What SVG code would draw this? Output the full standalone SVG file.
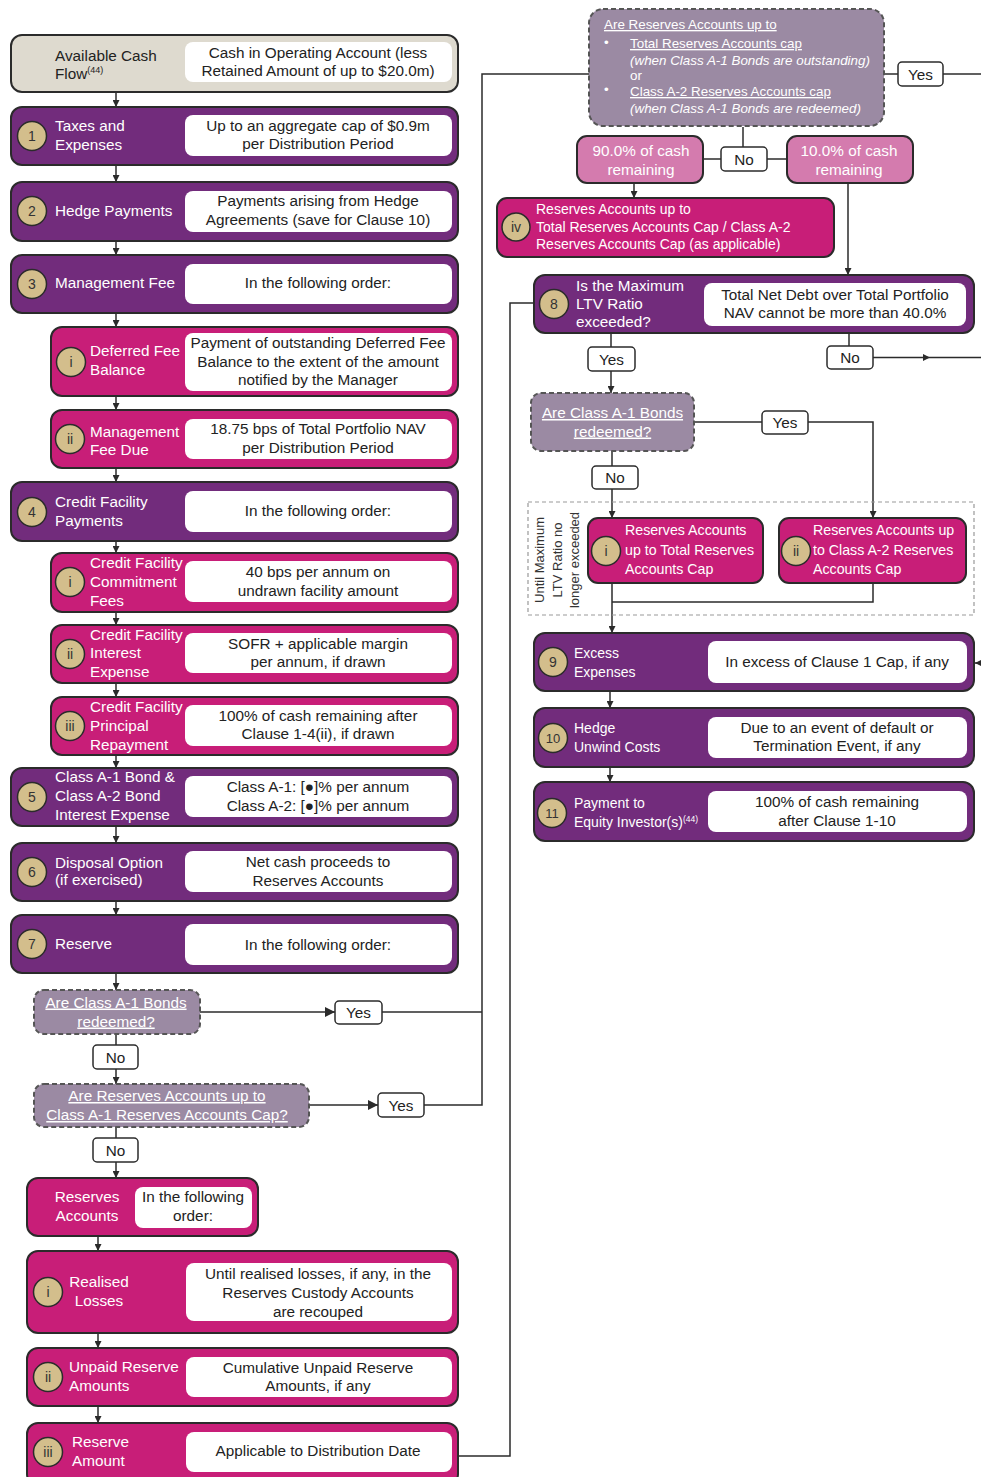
<svg xmlns="http://www.w3.org/2000/svg" width="981" height="1477" viewBox="0 0 981 1477">
<defs>
<style>
text{font-family:"Liberation Sans",Arial,sans-serif;font-size:15.3px;fill:#222}
.w{fill:#fff}
.m{text-anchor:middle}
.u{text-decoration:underline}
.o{stroke:#2b2b2b;stroke-width:2}
.pu{fill:#722c7c}
.pk{fill:#c81e78}
.lp{fill:#d47bae}
.be{fill:#dedacf}
.dq{fill:#9b8aa3;stroke:#555;stroke-width:2;stroke-dasharray:5 3}
.wb{fill:#fff}
.c{fill:#d3be8c;stroke:#2b2b2b;stroke-width:1.5}
.cn{stroke:#2b2b2b;stroke-width:1.5;fill:none}
.lb{fill:#fff;stroke:#2b2b2b;stroke-width:1.5}
.num{font-size:14px;fill:#333;text-anchor:middle}
.s14{font-size:14px}
.s13{font-size:13.4px}
.it{font-style:italic}
</style>
<marker id="ah" viewBox="0 0 10 10" refX="10" refY="5" markerWidth="7" markerHeight="7" markerUnits="userSpaceOnUse" orient="auto"><path d="M0,0 L10,5 L0,10 z" fill="#2b2b2b"/></marker>
<marker id="ahL" viewBox="0 0 10 10" refX="10" refY="5" markerWidth="10" markerHeight="10" markerUnits="userSpaceOnUse" orient="auto"><path d="M0,0 L10,5 L0,10 z" fill="#2b2b2b"/></marker>
</defs>

<g id="connectors">
<line class="cn" x1="116" y1="92" x2="116" y2="107" marker-end="url(#ah)"/>
<line class="cn" x1="116" y1="165" x2="116" y2="182" marker-end="url(#ah)"/>
<line class="cn" x1="116" y1="241" x2="116" y2="255" marker-end="url(#ah)"/>
<line class="cn" x1="116" y1="313" x2="116" y2="327" marker-end="url(#ah)"/>
<line class="cn" x1="116" y1="396" x2="116" y2="410" marker-end="url(#ah)"/>
<line class="cn" x1="116" y1="468" x2="116" y2="482" marker-end="url(#ah)"/>
<line class="cn" x1="116" y1="541" x2="116" y2="553" marker-end="url(#ah)"/>
<line class="cn" x1="116" y1="612" x2="116" y2="625" marker-end="url(#ah)"/>
<line class="cn" x1="116" y1="683" x2="116" y2="697" marker-end="url(#ah)"/>
<line class="cn" x1="116" y1="755" x2="116" y2="768" marker-end="url(#ah)"/>
<line class="cn" x1="116" y1="826" x2="116" y2="843" marker-end="url(#ah)"/>
<line class="cn" x1="116" y1="901" x2="116" y2="915" marker-end="url(#ah)"/>
<line class="cn" x1="116" y1="973" x2="116" y2="990" marker-end="url(#ah)"/>
<line class="cn" x1="116" y1="1034" x2="116" y2="1045"/>
<line class="cn" x1="116" y1="1069" x2="116" y2="1084" marker-end="url(#ah)"/>
<line class="cn" x1="116" y1="1127" x2="116" y2="1138"/>
<line class="cn" x1="116" y1="1162" x2="116" y2="1178" marker-end="url(#ah)"/>
<line class="cn" x1="98" y1="1236" x2="98" y2="1251" marker-end="url(#ah)"/>
<line class="cn" x1="98" y1="1333" x2="98" y2="1348" marker-end="url(#ah)"/>
<line class="cn" x1="98" y1="1406" x2="98" y2="1423" marker-end="url(#ah)"/>
<line class="cn" x1="200" y1="1012" x2="335" y2="1012" marker-end="url(#ahL)"/>
<line class="cn" x1="382" y1="1012" x2="482" y2="1012"/>
<line class="cn" x1="309" y1="1105" x2="378" y2="1105" marker-end="url(#ahL)"/>
<polyline class="cn" points="424,1105 482,1105 482,74 589,74"/>
<polyline class="cn" points="458,1456 510,1456 510,303 534,303"/>
<line class="cn" x1="884" y1="74" x2="898" y2="74"/>
<line class="cn" x1="943" y1="74" x2="981" y2="74"/>
<line class="cn" x1="743" y1="127" x2="743" y2="147"/>
<line class="cn" x1="703" y1="159" x2="721" y2="159"/>
<line class="cn" x1="767" y1="159" x2="787" y2="159"/>
<line class="cn" x1="634" y1="183" x2="634" y2="198" marker-end="url(#ah)"/>
<line class="cn" x1="848" y1="183" x2="848" y2="275" marker-end="url(#ah)"/>
<line class="cn" x1="611" y1="333" x2="611" y2="347"/>
<line class="cn" x1="611" y1="371" x2="611" y2="393" marker-end="url(#ah)"/>
<line class="cn" x1="849" y1="333" x2="849" y2="346"/>
<line class="cn" x1="873" y1="357.5" x2="930" y2="357.5" marker-end="url(#ah)"/>
<line class="cn" x1="930" y1="357.5" x2="981" y2="357.5"/>
<line class="cn" x1="694" y1="422" x2="762" y2="422"/>
<polyline class="cn" points="808,422 873,422 873,518" marker-end="url(#ah)"/>
<line class="cn" x1="612" y1="451" x2="612" y2="466"/>
<line class="cn" x1="612" y1="489" x2="612" y2="518" marker-end="url(#ah)"/>
<line class="cn" x1="612" y1="583" x2="612" y2="633" marker-end="url(#ah)"/>
<polyline class="cn" points="873,583 873,602 612,602"/>
<line class="cn" x1="986" y1="663" x2="975" y2="663" marker-end="url(#ah)"/>
<line class="cn" x1="610" y1="691" x2="610" y2="708" marker-end="url(#ah)"/>
<line class="cn" x1="610" y1="767" x2="610" y2="782" marker-end="url(#ah)"/>
</g>

<g id="avail">
<rect class="be o" x="11" y="35" width="447" height="57" rx="11"/>
<rect class="wb" x="185" y="42" width="267" height="40" rx="8"/>
<text x="55" y="61">Available Cash</text>
<text x="55" y="79">Flow<tspan font-size="9" dy="-6">(44)</tspan></text>
<text class="m" x="318" y="57.5">Cash in Operating Account (less</text>
<text class="m" x="318" y="76">Retained Amount of up to $20.0m)</text>
</g>

<g id="n1">
<rect class="pu o" x="11" y="107" width="447" height="58" rx="11"/>
<rect class="wb" x="185" y="115" width="267" height="41" rx="8"/>
<circle class="c" cx="32" cy="136" r="14.5"/><text class="num" x="32" y="141">1</text>
<text class="w" x="55" y="131">Taxes and</text>
<text class="w" x="55" y="149.5">Expenses</text>
<text class="m" x="318" y="130.5">Up to an aggregate cap of $0.9m</text>
<text class="m" x="318" y="149">per Distribution Period</text>
</g>

<g id="n2">
<rect class="pu o" x="11" y="182" width="447" height="59" rx="11"/>
<rect class="wb" x="185" y="191" width="267" height="41" rx="8"/>
<circle class="c" cx="32" cy="211" r="14.5"/><text class="num" x="32" y="216">2</text>
<text class="w" x="55" y="215.5">Hedge Payments</text>
<text class="m" x="318" y="206">Payments arising from Hedge</text>
<text class="m" x="318" y="225">Agreements (save for Clause 10)</text>
</g>

<g id="n3">
<rect class="pu o" x="11" y="255" width="447" height="58" rx="11"/>
<rect class="wb" x="185" y="264" width="267" height="40" rx="8"/>
<circle class="c" cx="32" cy="284" r="14.5"/><text class="num" x="32" y="289">3</text>
<text class="w" x="55" y="288">Management Fee</text>
<text class="m" x="318" y="288">In the following order:</text>
</g>

<g id="n3i">
<rect class="pk o" x="51" y="327" width="407" height="69" rx="11"/>
<rect class="wb" x="185" y="333" width="267" height="58" rx="8"/>
<circle class="c" cx="71" cy="362" r="14.5"/><text class="num" x="71" y="367">i</text>
<text class="w" x="90" y="356">Deferred Fee</text>
<text class="w" x="90" y="374.5">Balance</text>
<text class="m" x="318" y="348">Payment of outstanding Deferred Fee</text>
<text class="m" x="318" y="366.5">Balance to the extent of the amount</text>
<text class="m" x="318" y="385">notified by the Manager</text>
</g>

<g id="n3ii">
<rect class="pk o" x="51" y="410" width="407" height="58" rx="11"/>
<rect class="wb" x="185" y="419" width="267" height="40" rx="8"/>
<circle class="c" cx="70" cy="439" r="14.5"/><text class="num" x="70" y="444">ii</text>
<text class="w" x="90" y="437">Management</text>
<text class="w" x="90" y="455">Fee Due</text>
<text class="m" x="318" y="434">18.75 bps of Total Portfolio NAV</text>
<text class="m" x="318" y="453">per Distribution Period</text>
</g>

<g id="n4">
<rect class="pu o" x="11" y="482" width="447" height="59" rx="11"/>
<rect class="wb" x="185" y="491" width="267" height="41" rx="8"/>
<circle class="c" cx="32" cy="512" r="14.5"/><text class="num" x="32" y="517">4</text>
<text class="w" x="55" y="506.5">Credit Facility</text>
<text class="w" x="55" y="525.5">Payments</text>
<text class="m" x="318" y="516">In the following order:</text>
</g>

<g id="n4i">
<rect class="pk o" x="51" y="553" width="407" height="59" rx="11"/>
<rect class="wb" x="185" y="561" width="267" height="41" rx="8"/>
<circle class="c" cx="70" cy="582" r="14.5"/><text class="num" x="70" y="587">i</text>
<text class="w" x="90" y="568">Credit Facility</text>
<text class="w" x="90" y="587">Commitment</text>
<text class="w" x="90" y="605.5">Fees</text>
<text class="m" x="318" y="577">40 bps per annum on</text>
<text class="m" x="318" y="595.5">undrawn facility amount</text>
</g>

<g id="n4ii">
<rect class="pk o" x="51" y="625" width="407" height="58" rx="11"/>
<rect class="wb" x="185" y="633" width="267" height="40" rx="8"/>
<circle class="c" cx="70" cy="654" r="14.5"/><text class="num" x="70" y="659">ii</text>
<text class="w" x="90" y="639.5">Credit Facility</text>
<text class="w" x="90" y="658">Interest</text>
<text class="w" x="90" y="677">Expense</text>
<text class="m" x="318" y="648.5">SOFR + applicable margin</text>
<text class="m" x="318" y="667">per annum, if drawn</text>
</g>

<g id="n4iii">
<rect class="pk o" x="51" y="697" width="407" height="58" rx="11"/>
<rect class="wb" x="185" y="705" width="267" height="41" rx="8"/>
<circle class="c" cx="70" cy="726" r="14.5"/><text class="num" x="70" y="731">iii</text>
<text class="w" x="90" y="711.5">Credit Facility</text>
<text class="w" x="90" y="730.5">Principal</text>
<text class="w" x="90" y="749.5">Repayment</text>
<text class="m" x="318" y="720.5">100% of cash remaining after</text>
<text class="m" x="318" y="739">Clause 1-4(ii), if drawn</text>
</g>

<g id="n5">
<rect class="pu o" x="11" y="768" width="447" height="58" rx="11"/>
<rect class="wb" x="185" y="776" width="267" height="41" rx="8"/>
<circle class="c" cx="32" cy="797" r="14.5"/><text class="num" x="32" y="802">5</text>
<text class="w" x="55" y="782">Class A-1 Bond &amp;</text>
<text class="w" x="55" y="801">Class A-2 Bond</text>
<text class="w" x="55" y="819.5">Interest Expense</text>
<text class="m" x="318" y="792">Class A-1: [●]% per annum</text>
<text class="m" x="318" y="811">Class A-2: [●]% per annum</text>
</g>

<g id="n6">
<rect class="pu o" x="11" y="843" width="447" height="58" rx="11"/>
<rect class="wb" x="185" y="851" width="267" height="41" rx="8"/>
<circle class="c" cx="32" cy="872" r="14.5"/><text class="num" x="32" y="877">6</text>
<text class="w" x="55" y="867.5">Disposal Option</text>
<text class="w" x="55" y="885">(if exercised)</text>
<text class="m" x="318" y="867">Net cash proceeds to</text>
<text class="m" x="318" y="885.5">Reserves Accounts</text>
</g>

<g id="n7">
<rect class="pu o" x="11" y="915" width="447" height="58" rx="11"/>
<rect class="wb" x="185" y="924" width="267" height="41" rx="8"/>
<circle class="c" cx="32" cy="944" r="14.5"/><text class="num" x="32" y="949">7</text>
<text class="w" x="55" y="949">Reserve</text>
<text class="m" x="318" y="949.5">In the following order:</text>
</g>

<g id="d1">
<rect class="dq" x="34" y="990" width="166" height="44" rx="10"/>
<text class="w m u" x="116" y="1007.5">Are Class A-1 Bonds</text>
<text class="w m u" x="116" y="1026.5">redeemed?</text>
</g>
<g id="d1yes"><rect class="lb" x="335" y="1001" width="47" height="23" rx="4"/><text class="m" x="358.5" y="1018">Yes</text></g>
<g id="d1no"><rect class="lb" x="93" y="1045" width="45" height="24" rx="4"/><text class="m" x="115.5" y="1062.5">No</text></g>

<g id="d2">
<rect class="dq" x="34" y="1084" width="275" height="43" rx="10"/>
<text class="w m u" x="167" y="1101">Are Reserves Accounts up to</text>
<text class="w m u" x="167" y="1120">Class A-1 Reserves Accounts Cap?</text>
</g>
<g id="d2yes"><rect class="lb" x="378" y="1093" width="46" height="24" rx="4"/><text class="m" x="401" y="1110.5">Yes</text></g>
<g id="d2no"><rect class="lb" x="93" y="1138" width="45" height="24" rx="4"/><text class="m" x="115.5" y="1155.5">No</text></g>

<g id="ra">
<rect class="pk o" x="27" y="1178" width="231" height="58" rx="11"/>
<rect class="wb" x="135" y="1187" width="117" height="41" rx="8"/>
<text class="w m" x="87" y="1202">Reserves</text>
<text class="w m" x="87" y="1221">Accounts</text>
<text class="m" x="193" y="1202">In the following</text>
<text class="m" x="193" y="1221">order:</text>
</g>

<g id="rai">
<rect class="pk o" x="27" y="1251" width="431" height="82" rx="11"/>
<rect class="wb" x="186" y="1263" width="266" height="58" rx="8"/>
<circle class="c" cx="48" cy="1292" r="14.5"/><text class="num" x="48" y="1297">i</text>
<text class="w m" x="99" y="1287">Realised</text>
<text class="w m" x="99" y="1305.5">Losses</text>
<text class="m" x="318" y="1279">Until realised losses, if any, in the</text>
<text class="m" x="318" y="1298">Reserves Custody Accounts</text>
<text class="m" x="318" y="1316.5">are recouped</text>
</g>

<g id="raii">
<rect class="pk o" x="27" y="1348" width="431" height="58" rx="11"/>
<rect class="wb" x="186" y="1357" width="266" height="40" rx="8"/>
<circle class="c" cx="48" cy="1377" r="14.5"/><text class="num" x="48" y="1382">ii</text>
<text class="w" x="69" y="1372">Unpaid Reserve</text>
<text class="w" x="69" y="1391">Amounts</text>
<text class="m" x="318" y="1373">Cumulative Unpaid Reserve</text>
<text class="m" x="318" y="1391">Amounts, if any</text>
</g>

<g id="raiii">
<rect class="pk o" x="27" y="1423" width="431" height="62" rx="11"/>
<rect class="wb" x="186" y="1432" width="266" height="40" rx="8"/>
<circle class="c" cx="48" cy="1452" r="14.5"/><text class="num" x="48" y="1457">iii</text>
<text class="w" x="72" y="1447">Reserve</text>
<text class="w" x="72" y="1465.5">Amount</text>
<text class="m" x="318" y="1456">Applicable to Distribution Date</text>
</g>

<g id="dtop">
<rect class="dq" x="589" y="9" width="295" height="117" rx="14"/>
<text class="w s13 u" x="604" y="29">Are Reserves Accounts up to</text>
<text class="w s13" x="604" y="47">•</text>
<text class="w s13 u" x="630" y="48">Total Reserves Accounts cap</text>
<text class="w s13 it" x="630" y="64.5">(when Class A-1 Bonds are outstanding)</text>
<text class="w s13" x="630" y="80">or</text>
<text class="w s13" x="604" y="94">•</text>
<text class="w s13 u" x="630" y="96">Class A-2 Reserves Accounts cap</text>
<text class="w s13 it" x="630" y="112.5">(when Class A-1 Bonds are redeemed)</text>
</g>
<g id="dtopyes"><rect class="lb" x="898" y="62" width="45" height="24" rx="4"/><text class="m" x="920.5" y="79.5">Yes</text></g>
<g id="dtopno"><rect class="lb" x="721" y="147" width="46" height="24" rx="4"/><text class="m" x="744" y="164.5">No</text></g>

<g id="p90">
<rect class="lp o" x="577" y="136" width="126" height="47" rx="10"/>
<text class="w m" x="641" y="155.5">90.0% of cash</text>
<text class="w m" x="641" y="174.5">remaining</text>
</g>
<g id="p10">
<rect class="lp o" x="787" y="136" width="126" height="47" rx="10"/>
<text class="w m" x="849" y="155.5">10.0% of cash</text>
<text class="w m" x="849" y="174.5">remaining</text>
</g>

<g id="niv">
<rect class="pk o" x="497" y="198" width="337" height="59" rx="10"/>
<circle class="c" cx="516" cy="227" r="14"/><text class="num" x="516" y="232">iv</text>
<text class="w s14" x="536" y="214">Reserves Accounts up to</text>
<text class="w s14" x="536" y="231.5">Total Reserves Accounts Cap / Class A-2</text>
<text class="w s14" x="536" y="248.5">Reserves Accounts Cap (as applicable)</text>
</g>

<g id="n8">
<rect class="pu o" x="534" y="275" width="440" height="58" rx="11"/>
<rect class="wb" x="704" y="283" width="262" height="43" rx="8"/>
<circle class="c" cx="554" cy="304" r="14.5"/><text class="num" x="554" y="309">8</text>
<text class="w" x="576" y="290.5">Is the Maximum</text>
<text class="w" x="576" y="309">LTV Ratio</text>
<text class="w" x="576" y="327">exceeded?</text>
<text class="m" x="835" y="299.5">Total Net Debt over Total Portfolio</text>
<text class="m" x="835" y="318">NAV cannot be more than 40.0%</text>
</g>
<g id="n8yes"><rect class="lb" x="588" y="347" width="47" height="24" rx="4"/><text class="m" x="611.5" y="364.5">Yes</text></g>
<g id="n8no"><rect class="lb" x="827" y="346" width="46" height="23" rx="4"/><text class="m" x="850" y="363">No</text></g>

<g id="d3">
<rect class="dq" x="531" y="393" width="163" height="58" rx="10"/>
<text class="w m u" x="612.5" y="418">Are Class A-1 Bonds</text>
<text class="w m u" x="612.5" y="436.5">redeemed?</text>
</g>
<g id="d3yes"><rect class="lb" x="762" y="411" width="46" height="23" rx="4"/><text class="m" x="785" y="428">Yes</text></g>
<g id="d3no"><rect class="lb" x="592" y="466" width="46" height="23" rx="4"/><text class="m" x="615" y="483">No</text></g>

<g id="ltvgroup">
<rect x="528" y="502" width="446" height="113" fill="none" stroke="#999" stroke-width="1.2" stroke-dasharray="4 3"/>
<g font-size="13" fill="#333">
<text class="m" style="font-size:13px;fill:#333" transform="translate(544,560) rotate(-90)">Until Maximum</text>
<text class="m" style="font-size:13px;fill:#333" transform="translate(562,560) rotate(-90)">LTV Ratio no</text>
<text class="m" style="font-size:13px;fill:#333" transform="translate(579,560) rotate(-90)">longer exceeded</text>
</g>
</g>

<g id="ltvi">
<rect class="pk o" x="588" y="518" width="175" height="65" rx="10"/>
<circle class="c" cx="606" cy="551" r="14.5"/><text class="num" x="606" y="556">i</text>
<text class="w" style="font-size:14.2px" x="625" y="535">Reserves Accounts</text>
<text class="w" style="font-size:14.2px" x="625" y="555">up to Total Reserves</text>
<text class="w" style="font-size:14.2px" x="625" y="574">Accounts Cap</text>
</g>
<g id="ltvii">
<rect class="pk o" x="779" y="518" width="187" height="65" rx="10"/>
<circle class="c" cx="796" cy="551" r="14.5"/><text class="num" x="796" y="556">ii</text>
<text class="w" style="font-size:14.2px" x="813" y="535">Reserves Accounts up</text>
<text class="w" style="font-size:14.2px" x="813" y="555">to Class A-2 Reserves</text>
<text class="w" style="font-size:14.2px" x="813" y="574">Accounts Cap</text>
</g>

<g id="n9">
<rect class="pu o" x="534" y="633" width="440" height="58" rx="11"/>
<rect class="wb" x="708" y="641" width="259" height="42" rx="8"/>
<circle class="c" cx="553" cy="662" r="14.5"/><text class="num" x="553" y="667">9</text>
<text class="w s14" x="574" y="658">Excess</text>
<text class="w s14" x="574" y="677">Expenses</text>
<text class="m" x="837" y="666.5">In excess of Clause 1 Cap, if any</text>
</g>

<g id="n10">
<rect class="pu o" x="534" y="708" width="440" height="59" rx="11"/>
<rect class="wb" x="708" y="717" width="259" height="41" rx="8"/>
<circle class="c" cx="553" cy="738" r="14.5"/><text class="num" x="553" y="743" style="font-size:13px">10</text>
<text class="w s14" x="574" y="733">Hedge</text>
<text class="w s14" x="574" y="752">Unwind Costs</text>
<text class="m" x="837" y="732.5">Due to an event of default or</text>
<text class="m" x="837" y="751">Termination Event, if any</text>
</g>

<g id="n11">
<rect class="pu o" x="534" y="782" width="440" height="59" rx="11"/>
<rect class="wb" x="708" y="791" width="259" height="41" rx="8"/>
<circle class="c" cx="552" cy="813" r="14.5"/><text class="num" x="552" y="818" style="font-size:13px">11</text>
<text class="w s14" x="574" y="807.5">Payment to</text>
<text class="w s14" x="574" y="826.5">Equity Investor(s)<tspan font-size="8.5" dy="-5">(44)</tspan></text>
<text class="m" x="837" y="807">100% of cash remaining</text>
<text class="m" x="837" y="825.5">after Clause 1-10</text>
</g>
</svg>
